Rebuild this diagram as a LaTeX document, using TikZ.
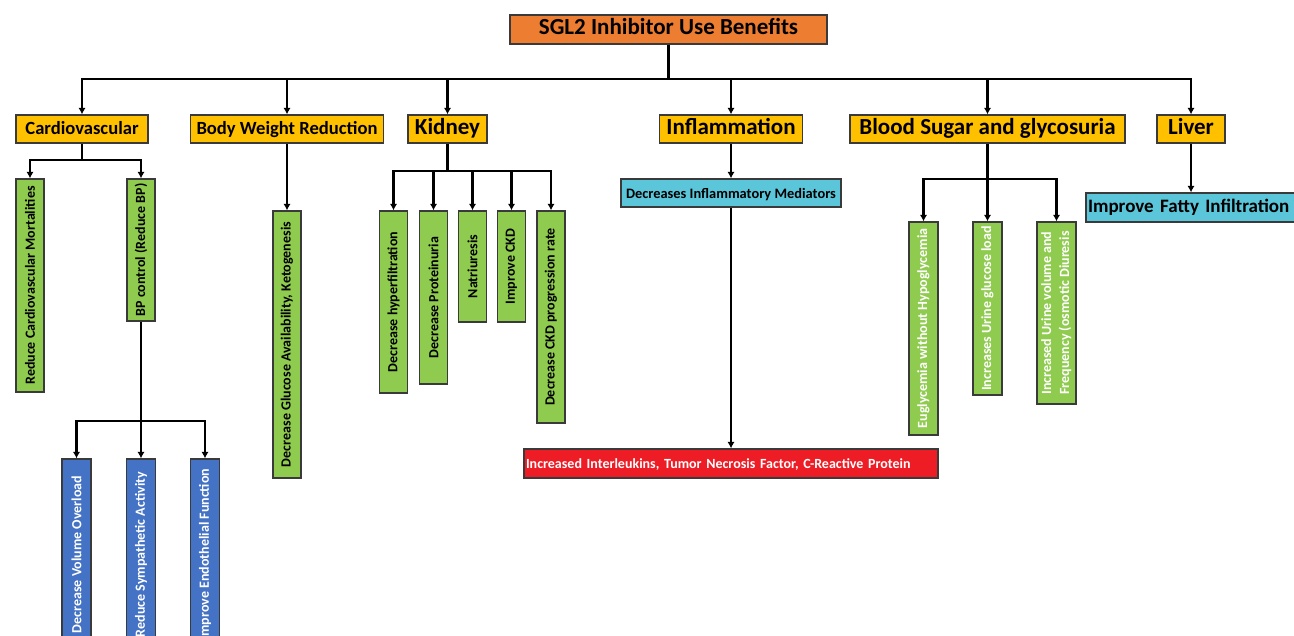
\documentclass[tikz,border=0pt]{standalone}
\usepackage{fontspec}
\setmainfont{Carlito}
\usepackage{graphicx}
\usetikzlibrary{arrows.meta}

\definecolor{rootorange}{HTML}{ED7D31}
\definecolor{topamber}{HTML}{FFC000}
\definecolor{leafgreen}{HTML}{8FCB4E}
\definecolor{leafcyan}{HTML}{5BC5D9}
\definecolor{leafblue}{HTML}{4472C4}
\definecolor{leafred}{HTML}{EE1C25}
\definecolor{boxline}{HTML}{3A3A3A}

\newcommand{\vtext}[1]{\rotatebox{90}{#1}}

\begin{document}
\begin{tikzpicture}[x=0.5pt,y=-0.5pt,>={Latex[length=3.2pt,width=3.6pt]},
    box/.style={draw=boxline,line width=0.65pt,inner sep=0pt},
    flat/.style={text height=1.55ex,text depth=0.45ex},
    rootbox/.style={box,flat,fill=rootorange,minimum width=158.5pt,minimum height=14.5pt,
        font=\fontsize{11.5}{13}\selectfont\bfseries},
    topbox/.style={box,flat,fill=topamber,minimum height=14pt,font=\fontsize{11.5}{13}\selectfont\bfseries},
    smalltop/.style={topbox,font=\fontsize{9.3}{11}\selectfont\bfseries},
    vleaf/.style={box,fill=leafgreen,minimum width=14pt,font=\fontsize{7}{9}\selectfont\bfseries},
    wleaf/.style={vleaf,minimum width=14.5pt,text=white},
    blueleaf/.style={vleaf,fill=leafblue,minimum width=14.5pt,text=white},
    hleaf/.style={box,flat,fill=leafcyan,minimum height=14pt,font=\fontsize{7.2}{9}\selectfont\bfseries},
    conn/.style={line width=1.2pt},
    arr/.style={conn,->}]

    \useasboundingbox (0,0) rectangle (1294,636);

    % top level
    \node[rootbox] (root) at (668.5,29.5) {SGL2 Inhibitor Use Benefits};

    \node[smalltop,minimum width=66pt] (cardio) at (82,129) {Cardiovascular};
    \node[smalltop,minimum width=96.5pt] (body) at (287,129) {Body Weight Reduction};
    \node[topbox,minimum width=39.5pt] (kidney) at (447.5,129) {Kidney};
    \node[topbox,minimum width=71.5pt] (inflam) at (731,129) {Inflammation};
    \node[topbox,minimum width=137.5pt] (blood) at (987.5,129) {Blood Sugar and glycosuria};
    \node[topbox,minimum width=34pt] (liver) at (1191,129) {Liver};

    \coordinate (topbus) at (668.5,79);
    \draw[conn] (root) -- (topbus);
    \foreach \n in {cardio,body,kidney,inflam,blood,liver}
        \draw[arr] (topbus) -| (\n);

    % cardiovascular
    \node[vleaf,minimum height=106.5pt] (rcm) at (30,285.5) {\vtext{Reduce Cardiovascular Mortalities}};
    \node[vleaf,minimum height=71pt] (bp) at (141,250) {\vtext{BP control (Reduce BP)}};
    \coordinate (cardiobus) at (82,160);
    \draw[conn] (cardio) -- (cardiobus);
    \foreach \n in {rcm,bp}
        \draw[arr] (cardiobus) -| (\n);

    \node[blueleaf,minimum height=95.5pt] (dvo) at (76.5,554.5) {\vtext{Decrease Volume Overload}};
    \node[blueleaf,minimum height=95.5pt] (rsa) at (141,554.5) {\vtext{Reduce Sympathetic Activity}};
    \node[blueleaf,minimum height=95.5pt] (ief) at (205,554.5) {\vtext{Improve Endothelial Function}};
    \coordinate (bpbus) at (141,421);
    \draw[conn] (bp) -- (bpbus);
    \foreach \n in {dvo,rsa,ief}
        \draw[arr] (bpbus) -| (\n);

    % body weight
    \node[vleaf,minimum height=133.5pt] (dga) at (287,344.5) {\vtext{Decrease Glucose Availability, Ketogenesis}};
    \draw[arr] (body) -- (dga);

    % kidney
    \node[vleaf,minimum height=91pt] (dhf) at (393.5,302) {\vtext{Decrease hyperfiltration}};
    \node[vleaf,minimum height=86.5pt] (dpr) at (433.5,297.5) {\vtext{Decrease Proteinuria}};
    \node[vleaf,minimum height=55.5pt] (nat) at (472.5,266.5) {\vtext{Natriuresis}};
    \node[vleaf,minimum height=55.5pt] (ickd) at (511.5,266.5) {\vtext{Improve CKD}};
    \node[vleaf,minimum height=106pt] (dckd) at (551,317) {\vtext{Decrease CKD progression rate}};
    \coordinate (kidneybus) at (447.5,171);
    \draw[conn] (kidney) -- (kidneybus);
    \foreach \n in {dhf,dpr,nat,ickd,dckd}
        \draw[arr] (kidneybus) -| (\n);

    % inflammation
    \node[hleaf,minimum width=110pt] (dim) at (731,193) {Decreases Inflammatory Mediators};
    \node[box,flat,fill=leafred,text=white,minimum height=14.5pt,inner xsep=1pt,text width=205pt,
        align=left,font=\fontsize{7}{9}\selectfont\bfseries] (red) at (731,463.5)
        {Increased Interleukins, Tumor Necrosis Factor, C-Reactive Protein};
    \draw[arr] (inflam) -- (dim);
    \draw[arr] (dim) -- (red);

    % blood sugar
    \node[wleaf,minimum height=106.5pt] (eug) at (923.5,328.5) {\vtext{Euglycemia without Hypoglycemia}};
    \node[wleaf,minimum height=86.5pt] (iug) at (987.5,308.5) {\vtext{Increases Urine glucose load}};
    \node[wleaf,minimum width=19.5pt,minimum height=91pt] (iuv) at (1056.5,313)
        {\vtext{\begin{tabular}{@{}l@{}}Increased Urine volume and\\Frequency (osmotic Diuresis\end{tabular}}};
    \coordinate (bloodbus) at (987.5,179);
    \draw[conn] (blood) -- (bloodbus);
    \foreach \n in {eug,iug,iuv}
        \draw[arr] (bloodbus) -| (\n);

    % liver
    \node[hleaf,minimum height=14.5pt,inner xsep=1pt,text width=104pt,align=left,
        font=\fontsize{9.5}{11}\selectfont\bfseries] (ifi) at (1192,207.5) {Improve Fatty Infiltration};
    \draw[arr] (liver) -- (liver |- ifi.north);

\end{tikzpicture}
\end{document}
